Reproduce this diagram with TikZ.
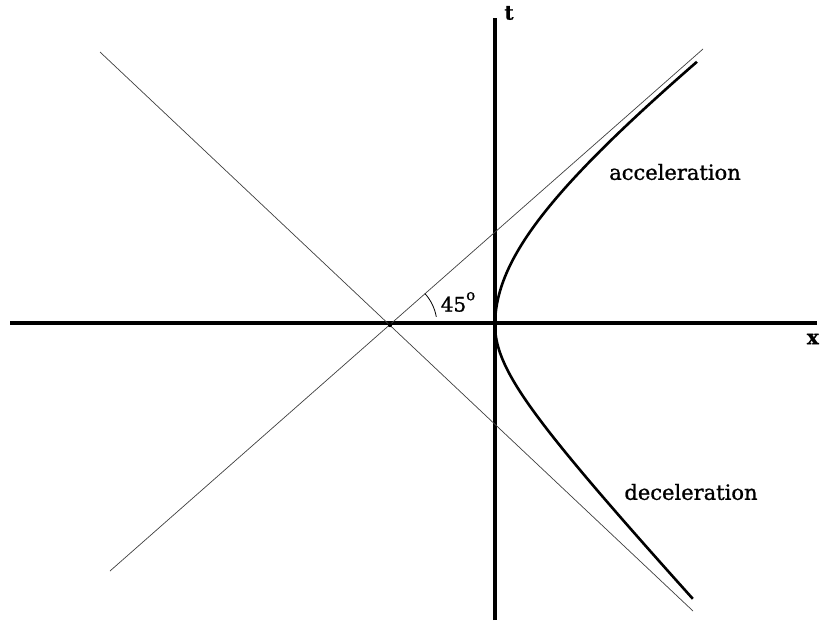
\documentclass[tikz,border=0pt]{standalone}
\usepackage{fontspec}
\setmainfont[FakeBold=1]{DejaVu Serif}
\usepackage{tikz}
\usetikzlibrary{calc}

\begin{document}
\begin{tikzpicture}[x=1pt,y=-1pt]
		\tikzstyle{axis}=[line width=3.6pt]
		\tikzstyle{cone}=[line width=0.7pt,black!75]
		\tikzstyle{worldline}=[line width=2.6pt,line join=round]
		\tikzstyle{lbl}=[inner sep=0pt,font=\fontsize{21}{25}\selectfont]
		\useasboundingbox (0,0) rectangle (820,624);
		\fill[white] (0,0) rectangle (820,624);
		\coordinate (xl) at (10,323);
		\coordinate (xr) at (817,323);
		\coordinate (tb) at (495,620);
		\coordinate (tt) at (495,18);
		\coordinate (o)  at (390,325);
		\coordinate (ul) at (100,52);
		\coordinate (lr) at (693,611);
		\coordinate (ll) at (110,571);
		\coordinate (ur) at (703,49);
		\draw[axis] (xl) -- (xr);
		\draw[axis] (tb) -- (tt);
		\draw[cone] (ul) -- (lr);
		\draw[cone] (ll) -- (ur);
		\fill (o) circle (2.2);
		% upper and lower branch of the world line
		\draw[worldline,samples=60,variable=\u]
		plot[domain=1.3226:0] ({295+200*cosh(\u)},{325-151*sinh(\u)})
		-- plot[domain=0:2.0947] ({431.6+63.4*cosh(\u)},{325+68.5*sinh(\u)});
		\draw[line width=0.8pt] ($(o)+(-10:47)$) arc[start angle=-10,end angle=-42,radius=47];
		\node[lbl,font=\fontsize{20}{24}\selectfont] (ang) at (458,302)
		{45\raisebox{1.1ex}{\fontsize{15}{15}\selectfont o}};
		\node[lbl] (acc) at (675,172) {acceleration};
		\node[lbl] (dec) at (691,492) {deceleration};
		\node[lbl,font=\fontsize{20}{24}\selectfont\bfseries] (tlbl) at (509,13) {t};
		\node[lbl,font=\fontsize{20}{24}\selectfont\bfseries,anchor=east] (xlbl) at (819,339) {x};
	\end{tikzpicture}
\end{document}
